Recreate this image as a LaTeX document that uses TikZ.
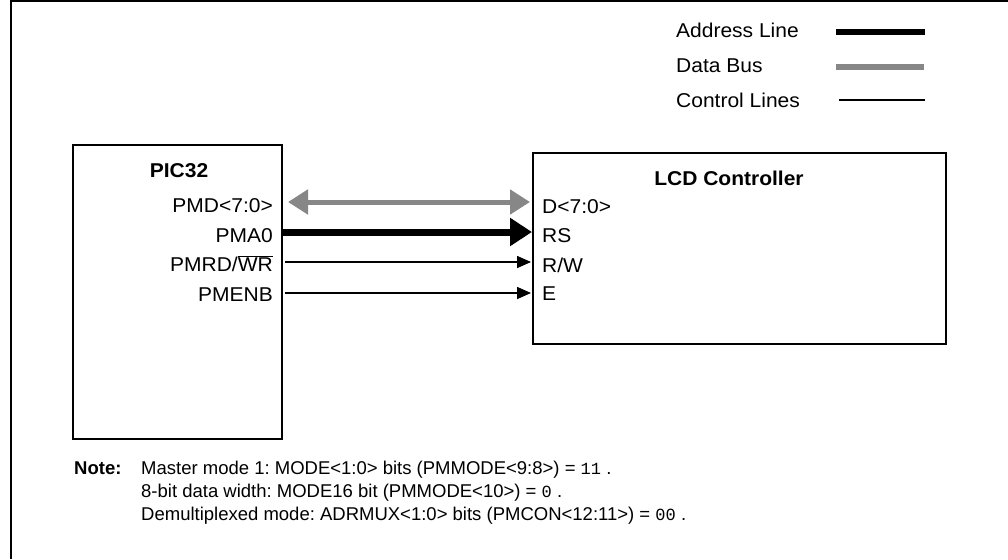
\documentclass[tikz,border=0pt]{standalone}
\usepackage{fontspec}
\setmainfont{Liberation Sans}[FakeStretch=1.05]
\setmonofont{Liberation Mono}
\newfontfamily\notefont{Liberation Sans}
\usetikzlibrary{arrows.meta}
\definecolor{busgrey}{HTML}{878787}
\newcommand{\lbl}{\fontsize{20}{22}\selectfont}
\newcommand{\notesize}{\fontsize{18.5}{22}\selectfont\notefont\frenchspacing}
\newcommand{\regval}[1]{{\fontsize{17}{18}\selectfont\ttfamily #1}}
\tikzset{
  chip/.style={draw, line width=2pt, inner sep=0pt, outer sep=0pt, anchor=north west},
  pinl/.style={font=\lbl, inner sep=0pt, anchor=base east},
  pinr/.style={font=\lbl, inner sep=0pt, anchor=base west},
  noteline/.style={font=\notesize, inner sep=0pt, anchor=base west},
  addrline/.style={line width=7pt, -{Triangle[length=22pt, width=27pt]}},
  databus/.style={busgrey, line width=5pt, {Triangle[length=20pt, width=24pt]}-{Triangle[length=20pt, width=24pt]}},
  ctrlline/.style={line width=1.5pt, -{Triangle[length=14pt, width=12pt]}}
}

\begin{document}
\begin{tikzpicture}[x=1pt, y=-1pt]
  \useasboundingbox (0,0) rectangle (1008,559);
  \draw[line width=2.5pt] (11,559) -- (11,1) -- (1008,1);

  % Legend
  \node[pinr] (lgaddr) at (676,38) {Address Line};
  \node[pinr] (lgdata) at (676,73) {Data Bus};
  \node[pinr] (lgctrl) at (676,108) {Control Lines};
  \draw[line width=6pt] (836,32) -- (925,32);
  \draw[busgrey, line width=6pt] (836,67) -- (924,67);
  \draw[line width=1.5pt] (839,100) -- (925,100);

  % PIC32 side
  \node[chip, minimum width=209pt, minimum height=294pt] (pic) at (73,145) {};
  \node[font=\lbl\bfseries, inner sep=0pt, anchor=base] (pictitle) at (179,177) {PIC32};
  \node[pinl] (pmd) at (273,212) {PMD<7:0>};
  \node[pinl] (pma) at (273,242) {PMA0};
  \node[pinl] (pmrd) at (273,271) {PMRD/$\overline{\hbox{WR}}$};
  \node[pinl] (pmenb) at (273,301) {PMENB};

  % LCD side
  \node[chip, minimum width=413pt, minimum height=191pt] (lcd) at (533,153) {};
  \node[font=\lbl\bfseries, inner sep=0pt, anchor=base] (lcdtitle) at (729,185) {LCD Controller};
  \node[pinr] (dpin) at (542,213) {D<7:0>};
  \node[pinr] (rspin) at (542,242) {RS};
  \node[pinr] (rwpin) at (542,272) {R/W};
  \node[pinr] (epin) at (542,300) {E};

  % connector ends on the box edges
  \coordinate (pmdA) at (288,202);  \coordinate (dA) at (530,202);
  \coordinate (pmaA) at (282,232);  \coordinate (rsA) at (532,232);
  \coordinate (pmrdA) at (285,262); \coordinate (rwA) at (531,262);
  \coordinate (pmenbA) at (285,293); \coordinate (eA) at (531,293);

  \draw[databus] (pmdA) -- (dA);
  \draw[addrline] (pmaA) -- (rsA);
  \draw[ctrlline] (pmrdA) -- (rwA);
  \draw[ctrlline] (pmenbA) -- (eA);

  % Note
  \node[noteline, font=\notesize\bfseries] (notehd) at (74,474) {Note:};
  \node[noteline] (note1) at (141,474) {Master mode 1: MODE<1:0> bits (PMMODE<9:8>) = \regval{11} .};
  \node[noteline] (note2) at (141,497) {8-bit data width: MODE16 bit (PMMODE<10>) = \regval{0} .};
  \node[noteline] (note3) at (141,520) {Demultiplexed mode: ADRMUX<1:0> bits (PMCON<12:11>) = \regval{00} .};
\end{tikzpicture}
\end{document}
